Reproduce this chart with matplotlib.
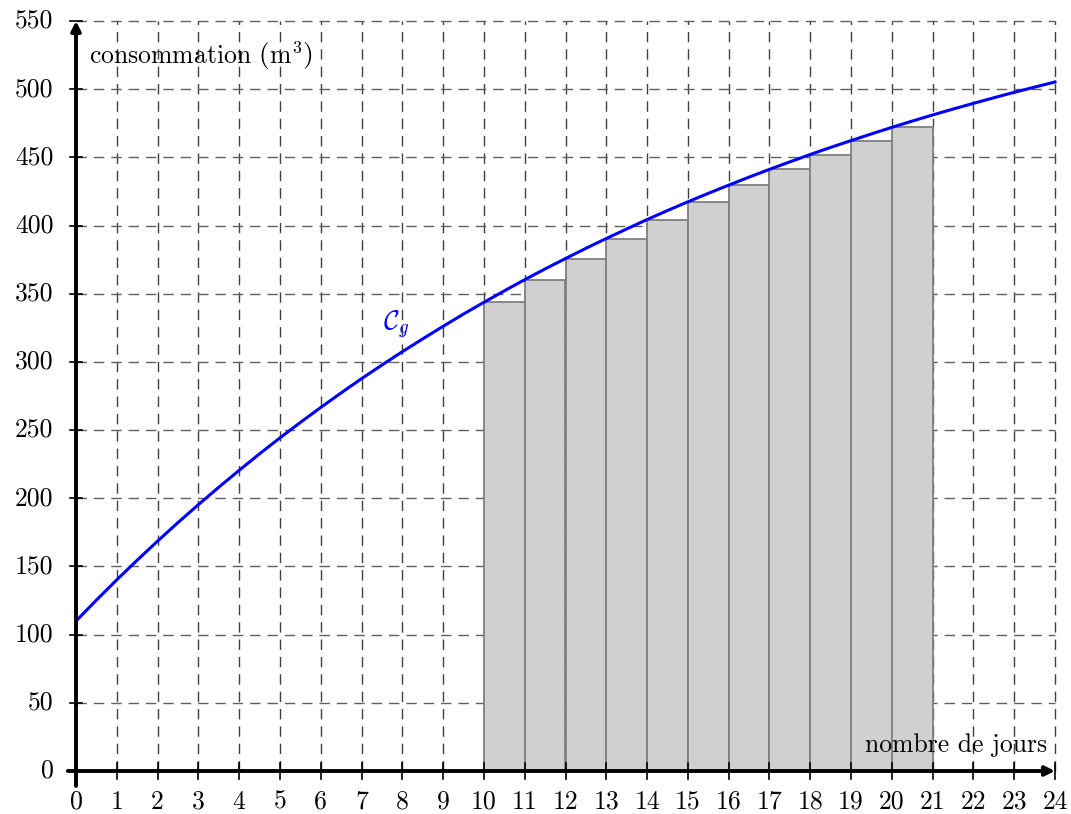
import numpy as np
import matplotlib
matplotlib.use("Agg")
import matplotlib.pyplot as plt

plt.rcParams['font.family'] = ['cmr10', 'DejaVu Serif']
plt.rcParams['mathtext.fontset'] = 'cm'
plt.rcParams['axes.formatter.use_mathtext'] = True

# courbe C_g : consommation cumulee (m3) en fonction du nombre de jours (releve tous les demi-jours)
jours = [0, 0.5, 1, 1.5, 2, 2.5, 3, 3.5, 4, 4.5, 5, 5.5, 6, 6.5, 7, 7.5, 8, 8.5,
         9, 9.5, 10, 10.5, 11, 11.5, 12, 12.5, 13, 13.5, 14, 14.5, 15, 15.5,
         16, 16.5, 17, 17.5, 18, 18.5, 19, 19.5, 20, 20.5, 21, 21.5, 22, 22.5,
         23, 23.5, 24]
conso = [110.0, 125.3, 140.2, 154.6, 168.6, 182.2, 195.3, 208.1, 220.5, 232.6,
         244.3, 255.6, 266.6, 277.3, 287.7, 297.7, 307.5, 316.9, 326.1, 335.1,
         343.7, 352.1, 360.3, 368.2, 375.8, 383.3, 390.5, 397.5, 404.4, 411.0,
         417.4, 423.6, 429.6, 435.5, 441.2, 446.7, 452.1, 457.3, 462.3, 467.2,
         472.0, 476.6, 481.1, 485.4, 489.6, 493.7, 497.7, 501.5, 505.3]

# rectangles sous la courbe, de 10 a 21 jours
rect_x = list(range(10, 21))
rect_h = [343.7, 360.3, 375.8, 390.5, 404.4, 417.4, 429.6, 441.2, 452.1, 462.3, 472.0]

xticks = list(range(0, 25))
yticks = list(range(0, 551, 50))

W, H = 1071, 814
fig = plt.figure(figsize=(W / 100, H / 100), dpi=100)
ax = fig.add_axes([76 / W, (H - 771) / H, (1055 - 76) / W, (771 - 21) / H])
ax.set_xlim(0, 24)
ax.set_ylim(0, 550)
ax.set_axis_off()

fs = 18.5
dash = (0, (7.5, 5))

# quadrillage en pointilles
for x in xticks[1:]:
    ax.plot([x, x], [0, 550], color='#404040', lw=1.0, ls=dash, zorder=1, clip_on=False)
for y in yticks[1:]:
    ax.plot([0, 24], [y, y], color='#606060', lw=1.0, ls=dash, zorder=1, clip_on=False)

# rectangles
ax.bar(rect_x, rect_h, width=1, align='edge', color='#d0d0d0',
       edgecolor='#808080', lw=1.3, zorder=2)

# courbe
ax.plot(jours, conso, color='#0000ff', lw=2.2, zorder=4, clip_on=False)
ax.text(7.85, 327, r'$\mathcal{C}_g$', color='#0000ff', fontsize=fs + 1,
        ha='center', va='center', zorder=5)

# axes avec fleches
ax.annotate('', xy=(24, 0), xytext=(-0.2, 0),
            arrowprops=dict(arrowstyle='-|>', color='black', lw=2.8,
                            mutation_scale=14, shrinkA=0, shrinkB=0),
            annotation_clip=False, zorder=6)
ax.annotate('', xy=(0, 550), xytext=(0, -11),
            arrowprops=dict(arrowstyle='-|>', color='black', lw=2.8,
                            mutation_scale=14, shrinkA=0, shrinkB=0),
            annotation_clip=False, zorder=6)

# graduations
for x in xticks:
    if x > 0:
        ax.plot([x, x], [-6, 6], color='black', lw=1.2, zorder=6, clip_on=False)
    ax.text(x, -14, str(x), ha='center', va='top', fontsize=fs)
for y in yticks:
    if y > 0:
        ax.plot([-0.15, 0.15], [y, y], color='black', lw=1.2, zorder=6, clip_on=False)
    ax.text(-0.55, y, str(y), ha='right', va='center', fontsize=fs)

ax.text(0.33, 525, r'consommation $\left(\mathrm{m}^{3}_{\,}\right)$', ha='left',
        va='center', fontsize=fs, zorder=7)
ax.text(23.8, 19, 'nombre de jours', ha='right', va='center', fontsize=fs,
        zorder=7)

fig.savefig('out.png', dpi=100)
